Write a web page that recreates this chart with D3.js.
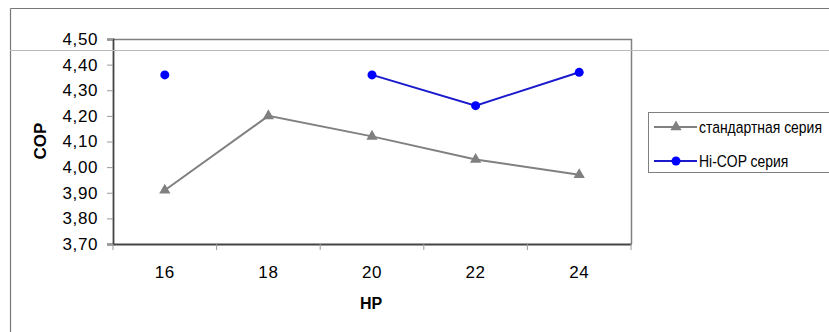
<!DOCTYPE html>
<html>
<head>
<meta charset="utf-8">
<script src="https://cdn.jsdelivr.net/npm/d3@7"></script>
<style>
  body { margin: 0; background: #fff; }
  svg { display: block; }
  .tick text { font-family: "Liberation Sans", Arial, sans-serif; font-size: 17px; letter-spacing: 0.6px; fill: #000; }
</style>
</head>
<body>
<div id="chart"></div>
<script>
var width = 829, height = 332;

// data
var categories = ["16", "18", "20", "22", "24"];
var standardSeries = [3.91, 4.20, 4.12, 4.03, 3.97];
var hiCopSeries = [4.36, null, 4.36, 4.24, 4.37];
var yTicks = [3.7, 3.8, 3.9, 4.0, 4.1, 4.2, 4.3, 4.4, 4.5];
var seriesNames = ["стандартная серия", "Hi-COP серия"];

var plot = {left: 113, top: 39, right: 631, bottom: 244};

var svg = d3.select("#chart").append("svg").attr("width", width).attr("height", height);

var x = d3.scaleBand().domain(categories).range([plot.left, plot.right]);
var y = d3.scaleLinear().domain([3.7, 4.5]).range([plot.bottom, plot.top]);

// outer chart frame (cut by the window)
svg.append("line").attr("x1", 10.5).attr("x2", width).attr("y1", 8.5).attr("y2", 8.5).attr("stroke", "#777").attr("stroke-width", 1.2);
svg.append("line").attr("x1", 10.5).attr("x2", 10.5).attr("y1", 8.5).attr("y2", height).attr("stroke", "#777").attr("stroke-width", 1.2);

// plot frame top / right
svg.append("path")
  .attr("d", "M" + plot.left + "," + (plot.top + 0.5) + "H" + (plot.right + 0.5) + "V" + plot.bottom)
  .attr("fill", "none").attr("stroke", "#808080").attr("stroke-width", 1.5);

// y axis
var yAxis = d3.axisLeft(y).tickValues(yTicks).tickSize(6).tickPadding(9)
  .tickFormat(function(d) { return d3.format(".2f")(d).replace(".", ","); });
var gy = svg.append("g").attr("transform", "translate(" + plot.left + ",0)").call(yAxis);
gy.select(".domain").attr("stroke", "#444").attr("stroke-width", 1.8);
gy.selectAll(".tick line").attr("stroke", "#999");

// x axis: labels at centres, ticks at boundaries
var xAxis = d3.axisBottom(x).tickSize(0).tickPadding(22);
var gx = svg.append("g").attr("transform", "translate(0," + plot.bottom + ")").call(xAxis);
gx.select(".domain").attr("stroke", "#444").attr("stroke-width", 1.8);
var edges = categories.map(function(c) { return x(c); }).concat([x(categories[categories.length - 1]) + x.bandwidth()]);
gx.selectAll(".edge").data(edges).enter().append("line")
  .attr("x1", function(d) { return d; }).attr("x2", function(d) { return d; })
  .attr("y1", 0).attr("y2", 6).attr("stroke", "#999");

// stray light line across the chart
svg.append("line").attr("x1", 10).attr("x2", width).attr("y1", 50.5).attr("y2", 50.5).attr("stroke", "#bbb").attr("stroke-width", 1);

// axis titles
svg.append("text").attr("transform", "translate(46,141) rotate(-90)").attr("text-anchor", "middle")
  .style("font-family", "Liberation Sans, Arial, sans-serif").style("font-size", "17px").style("font-weight", "bold").text("COP");
svg.append("text").attr("x", 371).attr("y", 309).attr("text-anchor", "middle")
  .style("font-family", "Liberation Sans, Arial, sans-serif").style("font-size", "16px").style("font-weight", "bold").text("HP");

var cx = function(i) { return x(categories[i]) + x.bandwidth() / 2; };
var line = d3.line().defined(function(d) { return d != null; })
  .x(function(d, i) { return cx(i); }).y(function(d) { return y(d); });
var tri = d3.symbol().type(d3.symbolTriangle).size(55);

// standard series
svg.append("path").datum(standardSeries).attr("d", line).attr("fill", "none").attr("stroke", "#808080").attr("stroke-width", 2);
svg.selectAll(".std").data(standardSeries).enter().append("path")
  .attr("transform", function(d, i) { return "translate(" + cx(i) + "," + y(d) + ")"; })
  .attr("d", tri).attr("fill", "#808080");

// hi-cop series
svg.append("path").datum(hiCopSeries).attr("d", line).attr("fill", "none").attr("stroke", "#1a1acc").attr("stroke-width", 2);
svg.selectAll(".hi").data(hiCopSeries.map(function(d, i) { return {v: d, i: i}; }).filter(function(d) { return d.v != null; }))
  .enter().append("circle")
  .attr("cx", function(d) { return cx(d.i); }).attr("cy", function(d) { return y(d.v); })
  .attr("r", 4.5).attr("fill", "#0000ff");

// legend
var lg = svg.append("g");
lg.append("rect").attr("x", 648.5).attr("y", 112.5).attr("width", 200).attr("height", 60)
  .attr("fill", "#fff").attr("stroke", "#808080");
var rows = [
  {name: seriesNames[0], color: "#808080", marker: "tri", y: 127},
  {name: seriesNames[1], color: "#1a1acc", marker: "dot", y: 161}
];
rows.forEach(function(r) {
  lg.append("line").attr("x1", 654).attr("x2", 697).attr("y1", r.y).attr("y2", r.y).attr("stroke", r.color).attr("stroke-width", 2);
  if (r.marker == "tri") {
    lg.append("path").attr("transform", "translate(676," + r.y + ")").attr("d", tri).attr("fill", "#808080");
  } else {
    lg.append("circle").attr("cx", 676).attr("cy", r.y).attr("r", 4.5).attr("fill", "#0000ff");
  }
  // condensed text, as in the original legend
  lg.append("text").attr("transform", "translate(699," + (r.y + 6) + ") scale(0.82,1)")
    .style("font-family", "Liberation Sans, Arial, sans-serif")
    .style("font-size", "17px").text(r.name);
});
</script>
</body>
</html>
